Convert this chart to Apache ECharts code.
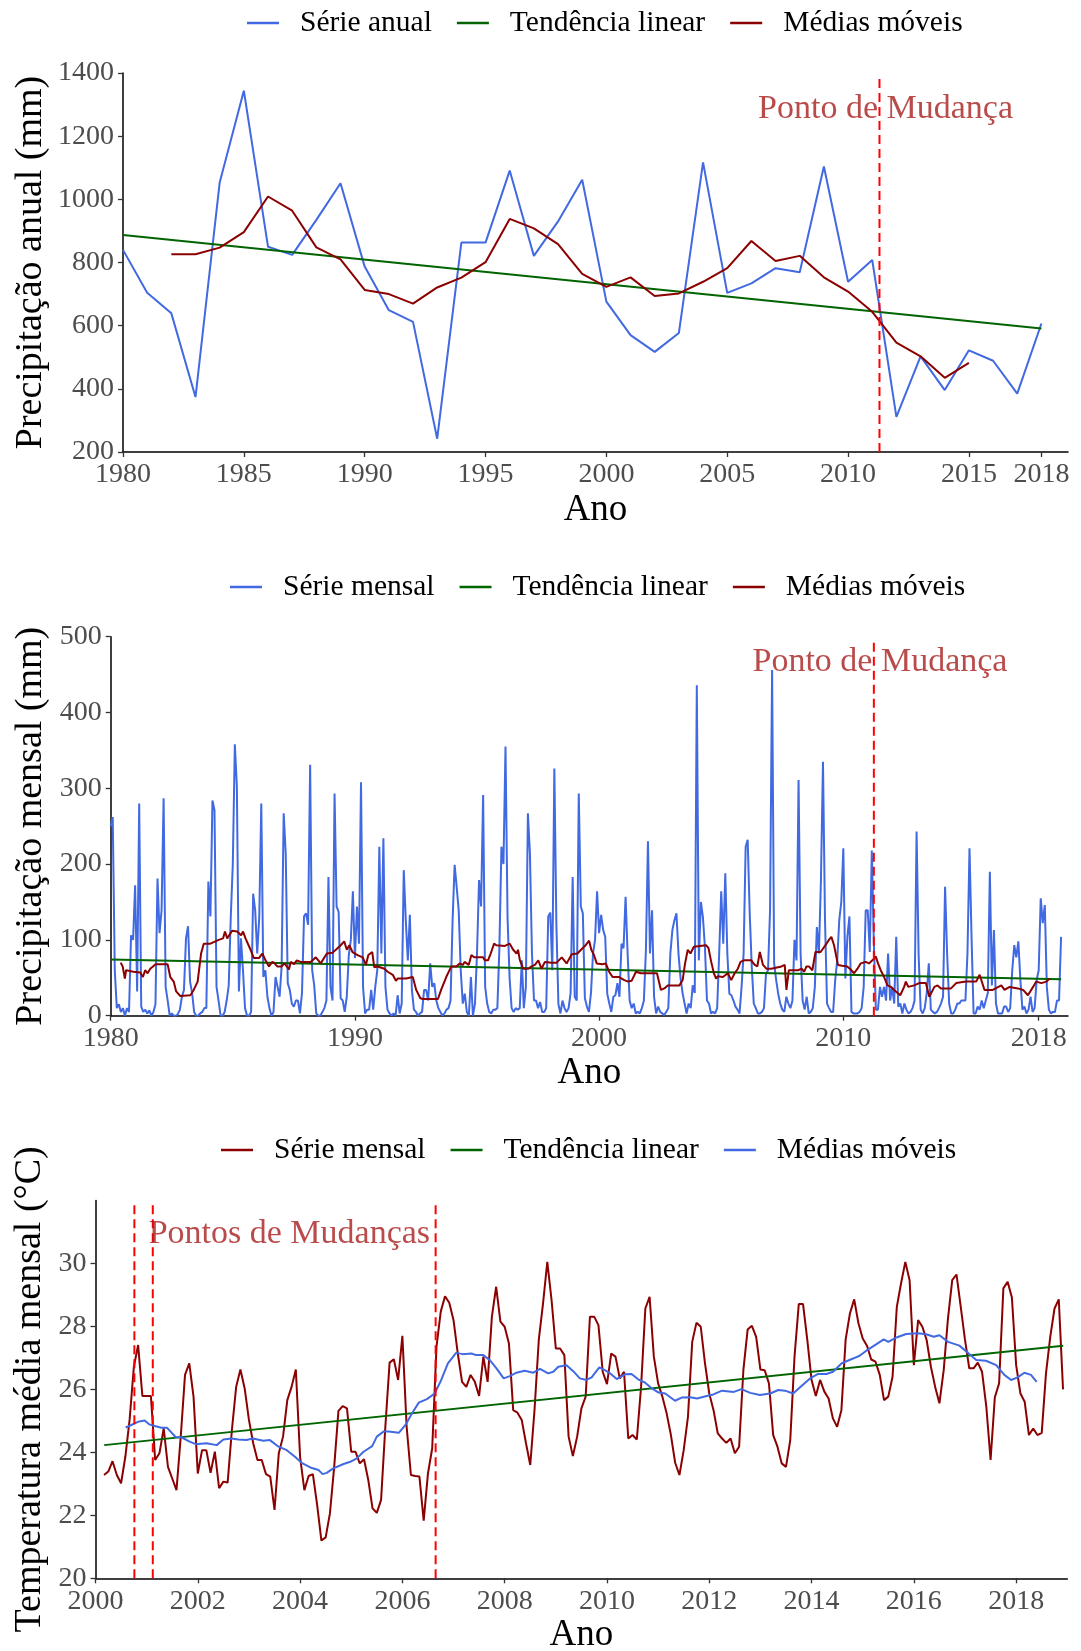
<!DOCTYPE html>
<html>
<head>
<meta charset="utf-8">
<script src="https://cdn.jsdelivr.net/npm/echarts@6/dist/echarts.min.js"></script>
<style>
  html, body { margin: 0; padding: 0; background: #ffffff; }
  #chart { width: 1081px; height: 1651px; }
</style>
</head>
<body>
<div id="chart"></div>
<script>
// ---------- Precipitação anual (mm), 1980–2018 ----------
const anos = [1980,1981,1982,1983,1984,1985,1986,1987,1988,1989,
              1990,1991,1992,1993,1994,1995,1996,1997,1998,1999,
              2000,2001,2002,2003,2004,2005,2006,2007,2008,2009,
              2010,2011,2012,2013,2014,2015,2016,2017,2018];
const precipAnual = [840,704,639,374,1053,1344,850,824,935,1051,
                     787,649,612,242,863,863,1091,821,930,1062,
                     676,570,517,577,1117,704,734,782,769,1104,
                     739,808,311,503,396,522,489,385,607];
const anosMediaAnual = [1982,1983,1984,1985,1986,1987,1988,1989,1990,1991,
                        1992,1993,1994,1995,1996,1997,1998,1999,2000,2001,
                        2002,2003,2004,2005,2006,2007,2008,2009,2010,2011,
                        2012,2013,2014,2015];
const mediaAnual = [826,826,847,896,1009,964,848,810,713,700,
                    670,721,752,801,938,908,858,764,723,753,
                    694,702,739,782,868,805,821,753,708,644,
                    546,503,435,482];
const tendenciaAnual = [[1980, 887], [2018, 591]];
const mudancaAnual = 2011.3;
const ticksAnoAnual = [1980,1985,1990,1995,2000,2005,2010,2015,2018];
const ticksPrecipAnual = [200,400,600,800,1000,1200,1400];

// ---------- Precipitação mensal (mm), jan/1980 – dez/2018 ----------
const inicioMensal = 1980;
const precipMensal = [
  250,262,60,10,15,5,10,0,10,5,106,100,      // 1980
  172,32,280,12,5,8,3,7,0,5,15,181,          // 1981
  109,139,287,38,20,0,3,0,0,2,8,25,          // 1982
  34,102,118,45,30,5,0,0,3,5,10,10,          // 1983
  177,131,284,271,38,20,0,0,5,20,40,130,     // 1984
  200,358,302,32,102,60,10,0,0,5,161,139,    // 1985
  82,130,280,51,60,25,10,0,5,51,38,25,       // 1986
  65,267,214,43,34,16,12,20,20,3,30,131,     // 1987
  135,120,331,60,40,3,0,0,5,10,20,183,       // 1988
  38,20,293,144,137,23,20,5,25,80,100,164,   // 1989
  76,144,95,308,38,3,8,8,34,8,38,60,         // 1990
  223,82,234,38,8,3,0,3,0,27,3,16,           // 1991
  192,126,73,133,34,8,5,0,3,5,34,34,         // 1992
  20,69,38,43,20,10,5,0,3,8,10,20,           // 1993
  126,199,170,139,60,16,29,5,0,51,0,16,      // 1994
  82,179,144,291,38,16,5,3,8,8,10,90,        // 1995
  223,200,355,130,50,10,5,10,8,10,73,10,     // 1996
  38,267,214,82,20,20,10,18,5,5,10,131,      // 1997
  136,60,326,120,15,3,20,10,5,10,30,183,     // 1998
  25,20,293,144,135,23,12,5,30,82,100,164,   // 1999
  109,133,113,104,29,16,5,25,27,43,25,95,    // 2000
  89,157,82,20,10,16,3,5,3,10,20,87,         // 2001
  230,82,139,25,3,12,5,3,1,5,10,82,          // 2002
  113,126,135,82,50,30,16,3,16,10,40,30,     // 2003
  436,73,150,130,90,20,16,3,5,3,10,82,       // 2004
  164,95,188,82,29,27,20,12,8,3,38,82,       // 2005
  223,232,135,65,16,10,3,3,5,10,55,60,       // 2006
  139,456,69,47,29,16,8,5,25,16,10,20,       // 2007
  100,73,311,82,20,8,25,3,5,10,38,117,       // 2008
  82,179,335,126,16,10,5,5,47,73,126,150,    // 2009
  221,49,104,131,5,3,3,3,5,10,38,139,        // 2010
  139,84,218,95,8,8,38,25,38,20,82,20,       // 2011
  38,16,104,12,16,3,16,8,3,5,10,20,          // 2012
  243,80,8,3,10,30,69,8,5,3,5,10,            // 2013
  16,25,170,82,16,3,3,8,16,16,20,20,         // 2014
  20,82,221,104,3,3,12,8,20,10,20,30,        // 2015
  190,40,113,16,3,3,3,12,12,5,10,60,         // 2016
  93,77,98,47,8,12,3,8,25,5,10,47,           // 2017
  60,155,122,146,38,8,3,5,5,20,20,104        // 2018
];
// médias móveis (ano decimal, mm)
const mediaMensal = [
  [1980.41,70],[1980.49,65],[1980.58,49],[1980.63,60],[1980.93,58],[1981.21,57],[1981.32,51],[1981.41,60],
  [1981.51,56],[1981.62,62],[1981.84,68],[1982.33,68],[1982.44,51],[1982.58,45],[1982.68,32],[1982.85,26],
  [1983.26,27],[1983.40,34],[1983.56,45],[1983.70,82],[1983.81,95],[1984.08,95],[1984.29,98],[1984.42,100],
  [1984.60,102],[1984.68,111],[1984.77,102],[1984.97,112],[1985.18,111],[1985.34,106],[1985.42,111],[1985.52,102],
  [1985.70,89],[1985.86,76],[1986.07,76],[1986.21,82],[1986.34,73],[1986.48,65],[1986.62,71],[1986.71,69],
  [1986.82,65],[1986.99,65],[1987.12,69],[1987.30,61],[1987.37,71],[1987.51,68],[1987.62,73],[1987.78,71],
  [1987.99,71],[1988.19,71],[1988.40,77],[1988.60,69],[1988.85,82],[1989.08,83],
  [1989.22,87],[1989.42,93],[1989.56,98],[1989.67,87],[1989.77,93],[1989.90,84],[1990.11,80],[1990.32,77],
  [1990.45,67],[1990.55,80],[1990.63,78],[1990.71,84],[1990.79,64],[1990.93,65],[1991.21,62],[1991.34,58],
  [1991.55,54],[1991.68,46],[1991.75,49],[1992.10,49],[1992.37,51],[1992.51,34],[1992.68,23],[1992.78,22],
  [1993.40,22],[1993.53,34],[1993.74,51],[1993.95,65],[1994.15,65],[1994.29,69],[1994.42,67],[1994.49,71],
  [1994.66,67],[1994.77,80],[1994.88,77],[1995.04,77],[1995.25,77],[1995.32,73],[1995.45,73],[1995.56,82],
  [1995.70,95],[1995.79,93],[1995.86,92],[1996.14,92],[1996.34,95],[1996.48,87],[1996.62,82],[1996.68,87],
  [1996.75,74],[1996.89,62],[1997.10,62],[1997.23,65],[1997.37,67],[1997.51,73],[1997.64,62],[1997.78,71],
  [1998.05,70],[1998.26,70],[1998.47,77],[1998.67,69],[1998.88,81],
  [1999.11,82],[1999.32,89],[1999.45,93],[1999.59,99],[1999.68,87],[1999.79,80],[1999.90,69],[2000.14,68],
  [2000.27,69],[2000.41,58],[2000.55,51],[2000.82,51],[2001.03,47],[2001.19,45],[2001.33,46],[2001.51,58],
  [2001.58,56],[2001.71,56],[2002.26,56],[2002.37,56],[2002.53,34],[2002.67,36],[2002.81,40],[2003.29,40],
  [2003.42,47],[2003.52,69],[2003.63,87],[2003.74,82],[2003.88,91],[2004.38,93],[2004.48,89],[2004.59,71],
  [2004.70,56],[2004.79,49],[2004.86,52],[2005.07,51],[2005.27,56],[2005.41,47],[2005.55,56],[2005.68,62],
  [2005.79,71],[2005.93,73],[2006.23,73],[2006.37,67],[2006.48,65],[2006.58,84],[2006.71,67],[2006.85,62],
  [2007.05,62],[2007.47,65],[2007.60,67],[2007.67,34],[2007.77,60],[2007.95,60],[2008.15,60],[2008.29,62],
  [2008.40,58],[2008.49,65],
  [2008.59,65],[2008.73,60],[2008.86,84],[2009.07,84],[2009.27,93],[2009.41,100],[2009.51,104],[2009.62,93],
  [2009.78,67],[2009.96,66],[2010.16,65],[2010.30,61],[2010.44,56],[2010.58,62],[2010.71,69],[2010.78,67],
  [2010.92,71],[2011.05,69],[2011.19,73],[2011.33,78],[2011.42,69],[2011.53,60],[2011.67,51],[2011.81,40],
  [2011.95,38],[2012.15,32],[2012.33,27],[2012.49,38],[2012.56,45],[2012.66,38],[2012.90,40],[2013.11,43],
  [2013.38,43],[2013.52,25],[2013.73,38],[2013.86,40],[2014.00,36],[2014.41,36],[2014.62,43],[2015.03,45],
  [2015.44,45],[2015.58,54],[2015.78,34],[2016.12,34],[2016.47,40],[2016.60,34],[2016.81,38],[2017.15,36],
  [2017.36,34],[2017.56,27],[2017.77,38],[2017.90,45],[2018.11,43],[2018.32,45],[2018.45,49]
];
const tendenciaMensal = [[1980, 74], [2018.92, 48]];
const mudancaMensal = 2011.25;
const ticksAnoMensal = [1980,1990,2000,2010,2018];
const ticksPrecipMensal = [0,100,200,300,400,500];

// ---------- Temperatura média mensal (°C), mar/2000 – dez/2018 ----------
const inicioTemp = 2000 + 2 / 12;
const tempMensal = [
  23.28,23.39,23.72,23.28,23.02,23.86,25.03,26.72,27.41,25.79,25.79,25.79,   // mar/2000 – fev/2001
  23.76,23.97,24.76,23.54,23.17,22.80,24.50,26.46,26.83,25.77,23.33,24.07,   // mar/2001 – fev/2002
  24.07,23.35,24.02,22.86,23.07,23.04,24.71,26.08,26.63,26.03,25.03,24.29,   // mar/2002 – fev/2003
  23.76,23.76,23.31,23.23,22.17,23.97,24.50,25.66,26.08,26.63,23.86,22.80,   // mar/2003 – fev/2004
  23.25,23.31,22.33,21.20,21.30,22.06,23.54,25.32,25.47,25.40,24.02,24.02,   // mar/2004 – fev/2005
  23.65,23.78,23.12,22.22,22.08,22.49,24.81,26.85,26.96,26.30,27.70,24.81,   // mar/2005 – fev/2006
  23.28,23.25,23.23,21.83,23.33,24.13,27.35,28.47,28.96,28.75,28.20,27.14,   // mar/2006 – fev/2007
  26.24,26.08,26.46,26.24,25.79,27.04,26.24,28.31,29.26,28.15,27.99,27.46,   // mar/2007 – fev/2008
  25.34,25.26,25.03,24.29,23.60,25.34,27.57,28.73,30.05,28.84,27.30,27.30,   // mar/2008 – fev/2009
  27.09,24.50,23.88,24.50,25.40,25.77,28.31,28.31,28.04,26.56,26.17,27.14,   // mar/2009 – fev/2010
  27.04,26.35,26.56,24.44,24.55,24.41,26.08,28.57,28.94,27.04,26.19,25.77,   // mar/2010 – fev/2011
  25.24,24.55,23.67,23.28,24.07,25.13,27.51,28.12,27.99,26.83,25.87,25.34,   // mar/2011 – fev/2012
  24.60,24.44,24.30,24.44,23.97,24.18,26.61,27.90,28.02,27.67,26.63,26.61,   // mar/2012 – fev/2013
  26.19,24.55,24.18,23.65,23.54,24.39,27.04,28.71,28.71,27.57,26.30,25.79,   // mar/2013 – fev/2014
  26.30,25.93,25.71,25.08,24.81,25.34,27.59,28.41,28.86,28.10,27.62,27.39,   // mar/2014 – fev/2015
  26.95,26.88,26.46,25.66,25.77,26.40,28.62,29.37,30.05,29.47,26.77,28.20,   // mar/2015 – fev/2016
  27.99,27.57,26.72,26.08,25.56,26.61,28.25,29.47,29.65,28.62,27.57,26.67,   // mar/2016 – fev/2017
  26.67,26.85,26.56,25.45,23.76,25.75,26.19,29.21,29.42,28.92,26.77,25.87,   // mar/2017 – fev/2018
  25.61,24.55,24.76,24.55,24.62,26.51,27.67,28.57,28.86,26.00                // mar/2018 – dez/2018
];
const mediaTemp = [
  [2000.59,24.79],[2000.70,24.87],[2000.83,24.97],[2000.96,25.01],[2001.05,24.89],[2001.16,24.84],[2001.29,24.78],
  [2001.40,24.78],[2001.57,24.48],[2001.68,24.48],[2001.84,24.34],[2001.96,24.26],[2002.17,24.29],[2002.37,24.23],
  [2002.50,24.41],[2002.66,24.44],[2002.79,24.41],[2002.95,24.39],[2003.08,24.44],[2003.28,24.37],[2003.41,24.39],
  [2003.58,24.18],[2003.74,24.07],[2003.90,23.86],[2004.03,23.67],[2004.20,23.52],[2004.36,23.44],[2004.44,23.31],
  [2004.52,23.35],[2004.65,23.49],[2004.85,23.63],[2004.98,23.70],[2005.11,23.81],[2005.24,24.02],[2005.41,24.20],
  [2005.50,24.50],[2005.63,24.66],[2005.73,24.66],[2005.93,24.62],[2006.06,24.87],[2006.19,25.24],[2006.32,25.58],
  [2006.48,25.69],[2006.63,25.87],[2006.76,26.30],[2006.89,26.83],[2007.05,27.16],[2007.18,27.12],[2007.35,27.14],
  [2007.44,27.09],[2007.58,27.09],[2007.71,26.93],[2007.84,26.67],[2007.98,26.35],[2008.10,26.42],[2008.23,26.53],
  [2008.39,26.59],[2008.56,26.53],[2008.69,26.65],[2008.85,26.51],[2008.95,26.56],[2009.05,26.72],[2009.21,26.77],
  [2009.34,26.58],[2009.47,26.35],[2009.60,26.30],[2009.70,26.38],[2009.85,26.70],[2009.96,26.61],[2010.06,26.51],
  [2010.19,26.33],[2010.35,26.48],[2010.48,26.49],[2010.61,26.32],[2010.74,26.22],[2010.88,26.03],[2011.01,25.90],
  [2011.14,25.87],[2011.33,25.64],[2011.46,25.74],[2011.63,25.75],[2011.76,25.71],[2011.95,25.79],[2012.08,25.84],
  [2012.25,25.96],[2012.48,25.92],[2012.63,26.01],[2012.80,25.89],[2012.99,25.82],[2013.19,25.87],[2013.35,25.98],
  [2013.48,25.96],[2013.64,25.87],[2013.77,26.06],[2013.97,26.35],[2014.13,26.49],[2014.29,26.49],[2014.42,26.56],
  [2014.59,26.83],[2014.81,26.98],[2014.94,27.07],[2015.07,27.23],[2015.27,27.44],[2015.41,27.59],[2015.50,27.51],
  [2015.66,27.65],[2015.85,27.76],[2016.08,27.78],[2016.24,27.75],[2016.39,27.67],[2016.50,27.72],[2016.67,27.51],
  [2016.89,27.39],[2017.06,27.16],[2017.22,26.93],[2017.41,26.91],[2017.61,26.77],[2017.77,26.46],[2017.90,26.30],
  [2018.03,26.38],[2018.16,26.53],[2018.29,26.46],[2018.40,26.24]
];
const tendenciaTemp = [[2000.17, 24.23], [2018.92, 27.39]];
const mudancasTemp = [2000.76, 2001.12, 2006.65];
const ticksAnoTemp = [2000,2002,2004,2006,2008,2010,2012,2014,2016,2018];
const ticksTemp = [20,22,24,26,28,30];

// ---------- estilo ----------
const FONTE = 'Liberation Serif';
const AZUL = '#4169E1', VERDE = '#006400', VINHO = '#8B0000', VERMELHO = '#FF0000', TEXTO_MUDANCA = '#A81E1E';

const paresAnuais = anos.map((a, i) => [a, precipAnual[i]]);
const paresMediaAnual = anosMediaAnual.map((a, i) => [a, mediaAnual[i]]);
const paresMensais = precipMensal.map((v, i) => [inicioMensal + i / 12, v]);
const paresTemp = tempMensal.map((v, i) => [inicioTemp + i / 12, v]);

const semSeparador = v => String(v);

function eixoX(grid, min, max, ticks, gap) {
  return {
    gridIndex: grid, type: 'value', min: min, max: max,
    name: 'Ano', nameLocation: 'middle', nameGap: gap, nameMoveOverlap: false,
    nameTextStyle: { fontFamily: FONTE, fontSize: 37, color: '#000' },
    axisLine: { show: true, onZero: false, lineStyle: { color: '#000', width: 1.5 } },
    axisTick: { show: true, length: 5, customValues: ticks, lineStyle: { color: '#333', width: 1.3 } },
    axisLabel: { customValues: ticks, formatter: semSeparador, fontFamily: FONTE, fontSize: 28,
                 color: '#4D4D4D', margin: 9 },
    splitLine: { show: false }
  };
}
function eixoY(grid, min, max, ticks, nome, gap) {
  return {
    gridIndex: grid, type: 'value', min: min, max: max,
    name: nome, nameLocation: 'middle', nameGap: gap, nameMoveOverlap: false,
    nameTextStyle: { fontFamily: FONTE, fontSize: 38, color: '#000' },
    axisLine: { show: true, onZero: false, lineStyle: { color: '#000', width: 1.5 } },
    axisTick: { show: true, length: 5, customValues: ticks, lineStyle: { color: '#333', width: 1.3 } },
    axisLabel: { customValues: ticks, formatter: semSeparador, fontFamily: FONTE, fontSize: 28,
                 color: '#4D4D4D', margin: 9 },
    splitLine: { show: false }
  };
}
function legenda(left, top, itens) {
  return {
    left: left, top: top, orient: 'horizontal', selectedMode: false,
    itemWidth: 32, itemHeight: 2.5, itemGap: 25,
    formatter: '{t|{name}}',
    textStyle: {
      fontFamily: FONTE, fontSize: 29.5, color: '#000',
      rich: { t: { fontFamily: FONTE, fontSize: 29.5, color: '#000', padding: [0, 0, 0, 16] } }
    },
    data: itens.map(([nome, cor]) => ({ name: nome, icon: 'rect', itemStyle: { color: cor, borderWidth: 0 } }))
  };
}
function linha(nome, grid, dados, cor, z) {
  return { name: nome, type: 'line', xAxisIndex: grid, yAxisIndex: grid, data: dados,
           symbol: 'none', showSymbol: false, silent: true, z: z || 2,
           lineStyle: { color: cor, width: 2 }, itemStyle: { color: cor } };
}
function tracejada(grid, x, y0, y1) {
  return { name: 'mudança', type: 'line', xAxisIndex: grid, yAxisIndex: grid,
           data: [[x, y0], [x, y1]], symbol: 'none', silent: true, z: 6,
           lineStyle: { color: VERMELHO, width: 2, type: [9, 5] } };
}
function rotulo(grid, x, y, texto) {
  return { name: 'rótulo', type: 'scatter', xAxisIndex: grid, yAxisIndex: grid,
           data: [[x, y]], symbolSize: 0, silent: true, z: 7,
           label: { show: true, position: 'inside', formatter: texto,
                    fontFamily: FONTE, fontSize: 34, color: TEXTO_MUDANCA } };
}

const option = {
  animation: false,
  backgroundColor: '#ffffff',
  textStyle: { fontFamily: FONTE },
  grid: [
    { left: 123, right: 13, top: 73, height: 379, outerBoundsMode: 'none' },
    { left: 110.7, right: 13, top: 636.7, height: 379, outerBoundsMode: 'none' },
    { left: 95.5, right: 13.7, top: 1200.5, height: 377.8, outerBoundsMode: 'none' }
  ],
  legend: [
    legenda(242, 3, [['Série anual', AZUL], ['Tendência linear', VERDE], ['Médias móveis', VINHO]]),
    legenda(225, 567, [['Série mensal', AZUL], ['Tendência linear', VERDE], ['Médias móveis', VINHO]]),
    legenda(216, 1130, [['Série mensal', VINHO], ['Tendência linear', VERDE], ['Médias móveis', AZUL]])
  ],
  xAxis: [
    eixoX(0, 1980, 2019.1, ticksAnoAnual, 40),
    eixoX(1, 1980, 2019.2, ticksAnoMensal, 39),
    eixoX(2, 2000, 2019, ticksAnoTemp, 38)
  ],
  yAxis: [
    eixoY(0, 200, 1400, ticksPrecipAnual, 'Precipitação anual (mm)', 73),
    eixoY(1, 0, 500, ticksPrecipMensal, 'Precipitação mensal (mm)', 61),
    eixoY(2, 20, 32, ticksTemp, 'Temperatura média mensal (°C)', 46)
  ],
  series: [
    linha('Série anual', 0, paresAnuais, AZUL, 2),
    linha('Tendência linear', 0, tendenciaAnual, VERDE, 3),
    linha('Médias móveis', 0, paresMediaAnual, VINHO, 4),
    tracejada(0, mudancaAnual, 200, 1385),
    rotulo(0, 2011.55, 1287, 'Ponto de Mudança'),

    linha('Série mensal', 1, paresMensais, AZUL, 2),
    linha('Tendência linear', 1, tendenciaMensal, VERDE, 3),
    linha('Médias móveis', 1, mediaMensal, VINHO, 4),
    tracejada(1, mudancaMensal, 0, 492),
    rotulo(1, 2011.5, 466, 'Ponto de Mudança'),

    linha('Série mensal', 2, paresTemp, VINHO, 2),
    linha('Tendência linear', 2, tendenciaTemp, VERDE, 3),
    linha('Médias móveis', 2, mediaTemp, AZUL, 4),
    tracejada(2, mudancasTemp[0], 20, 31.85),
    tracejada(2, mudancasTemp[1], 20, 31.85),
    tracejada(2, mudancasTemp[2], 20, 31.85),
    rotulo(2, 2003.79, 30.93, 'Pontos de Mudanças')
  ]
};

const chart = echarts.init(document.getElementById('chart'), null, { renderer: 'canvas' });
chart.setOption(option);
</script>
</body>
</html>
